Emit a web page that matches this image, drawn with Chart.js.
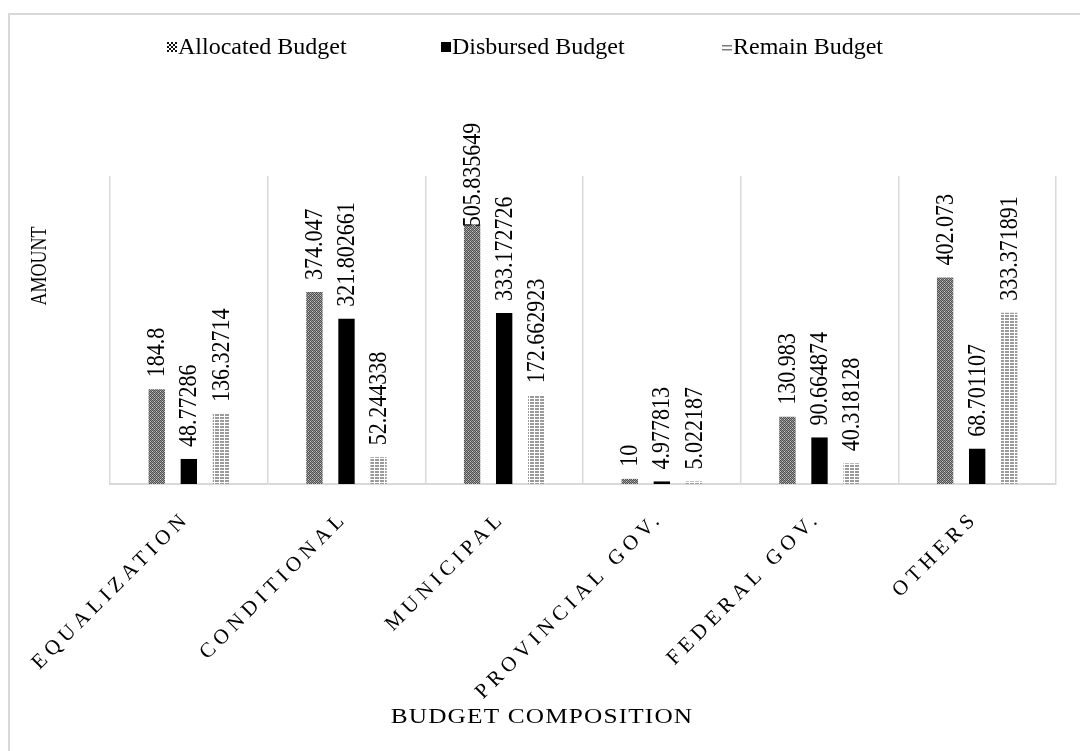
<!DOCTYPE html>
<html>
<head>
<meta charset="utf-8">
<script src="https://cdn.jsdelivr.net/npm/chart.js@4.4.1/dist/chart.umd.min.js"></script>
<style>
  html, body { margin: 0; padding: 0; background: #fff; overflow: hidden; }
  #wrap { position: relative; width: 1080px; height: 751px; }
  #frame { position: absolute; left: 8px; top: 13px; width: 1100px; height: 760px;
           border: 2px solid #d9d9d9; box-sizing: border-box; pointer-events: none; }
</style>
</head>
<body>
<div id="wrap">
  <canvas id="budget-chart"></canvas>
  <div id="frame"></div>
</div>
<script>
// budget composition data
var categories = ["EQUALIZATION", "CONDITIONAL", "MUNICIPAL", "PROVINCIAL GOV.", "FEDERAL GOV.", "OTHERS"];
var seriesNames = ["Allocated Budget", "Disbursed Budget", "Remain Budget"];
var allocated = [184.8, 374.047, 505.835649, 10, 130.983, 402.073];
var disbursed = [48.77286, 321.802661, 333.172726, 4.977813, 90.664874, 68.701107];
var remain = [136.32714, 52.244338, 172.662923, 5.022187, 40.318128, 333.371891];

var serif = '"Liberation Serif", "Times New Roman", serif';

//small fill patterns for the bars
function makePattern(w, h, rows, colors) {
  var c = document.createElement("canvas");
  c.width = w; c.height = h;
  var g = c.getContext("2d");
  for (var y = 0; y < h; y++) {
    for (var x = 0; x < w; x++) {
      g.fillStyle = colors[rows[y][x]];
      g.fillRect(x, y, 1, 1);
    }
  }
  return g.createPattern(c, "repeat");
}

var checkFill = makePattern(4, 4, ["dldl", "ldwd", "dldl", "wdld"],
  { d: "#505050", l: "#959595", w: "#cfcfcf" });
var stripeFill = makePattern(5, 3, ["ggggw", "ggggw", "wwwww"],
  { g: "#9a9a9a", w: "#ffffff" });

//draws value labels, category labels, axis titles and legend
var decorations = {
  id: "decorations",
  afterDraw: function(chart) {
    var ctx = chart.ctx;
    var area = chart.chartArea;
    var xs = chart.scales.x;

    // value labels above the bars
    ctx.save();
    ctx.fillStyle = "#000";
    ctx.font = "22px " + serif;
    ctx.textAlign = "left";
    ctx.textBaseline = "middle";
    chart.data.datasets.forEach(function(ds, i) {
      var meta = chart.getDatasetMeta(i);
      meta.data.forEach(function(bar, j) {
        var text = String(ds.data[j]);
        var w = ctx.measureText(text).width;
        var y = bar.y - 12;
        if (y - w < 110) y = bar.y + 3;
        ctx.save();
        ctx.translate(bar.x + 1, y);
        ctx.scale(1.15, 1);
        ctx.rotate(-Math.PI / 2);
        ctx.fillText(text, 0, 0);
        ctx.restore();
      });
    });
    ctx.restore();

    // category labels, slanted
    ctx.save();
    ctx.fillStyle = "#000";
    ctx.font = "21px " + serif;
    ctx.letterSpacing = "5px";
    ctx.textAlign = "right";
    ctx.textBaseline = "middle";
    categories.forEach(function(cat, i) {
      var x = xs.getPixelForTick(i);
      ctx.save();
      ctx.translate(x - 2, area.bottom + 31);
      ctx.rotate(-Math.PI / 4);
      ctx.fillText(cat, 0, 0);
      ctx.restore();
    });
    ctx.restore();

    // axis titles
    ctx.save();
    ctx.fillStyle = "#000";
    ctx.textAlign = "center";
    ctx.textBaseline = "middle";
    ctx.save();
    ctx.translate(542, 717);
    ctx.scale(1.15, 1);
    ctx.font = "22px " + serif;
    ctx.letterSpacing = "1px";
    ctx.fillText("BUDGET COMPOSITION", 0, 0);
    ctx.restore();
    ctx.translate(40, 266);
    ctx.scale(1.3, 1);
    ctx.rotate(-Math.PI / 2);
    ctx.font = "18px " + serif;
    ctx.fillText("AMOUNT", 0, 0);
    ctx.restore();

    // legend
    ctx.save();
    ctx.font = "24px " + serif;
    ctx.textBaseline = "middle";
    var starts = [167, 441, 722];
    var ly = 47;
    seriesNames.forEach(function(name, i) {
      var x = starts[i];
      if (i === 0) {
        for (var a = 0; a < 5; a++) {
          for (var b = 0; b < 5; b++) {
            ctx.fillStyle = (a + b) % 2 ? "#ffffff" : "#111111";
            ctx.fillRect(x + a * 2, ly - 5 + b * 2, 2, 2);
          }
        }
      } else if (i === 1) {
        ctx.fillStyle = "#000";
        ctx.fillRect(x, ly - 5, 10, 10);
      } else {
        ctx.fillStyle = "#7a7a7a";
        ctx.fillRect(x, ly - 2, 10, 1.5);
        ctx.fillRect(x, ly + 2, 10, 1.5);
      }
      ctx.fillStyle = "#000";
      ctx.fillText(name, x + 11, ly + 1);
    });
    ctx.restore();
  }
};

var chart1 = new Chart(document.getElementById("budget-chart"), {
  type: "bar",
  data: {
    labels: categories,
    datasets: [
      { label: seriesNames[0], data: allocated, backgroundColor: checkFill },
      { label: seriesNames[1], data: disbursed, backgroundColor: "#000000" },
      { label: seriesNames[2], data: remain, backgroundColor: stripeFill }
    ]
  },
  options: {
    responsive: true,
    maintainAspectRatio: false,
    animation: false,
    devicePixelRatio: 1,
    layout: { padding: { left: 110, right: 24, top: 176, bottom: 267 } },
    datasets: { bar: { barPercentage: 0.51, categoryPercentage: 0.61 } },
    plugins: {
      legend: { display: false },
      tooltip: { enabled: false },
      title: { display: false }
    },
    scales: {
      x: {
        grid: { offset: true, color: "#d9d9d9", lineWidth: 1.5, drawTicks: false },
        border: { color: "#d9d9d9", width: 2 },
        ticks: { display: false }
      },
      y: { display: false, min: 0, max: 600 }
    }
  },
  plugins: [decorations]
});
</script>
</body>
</html>
